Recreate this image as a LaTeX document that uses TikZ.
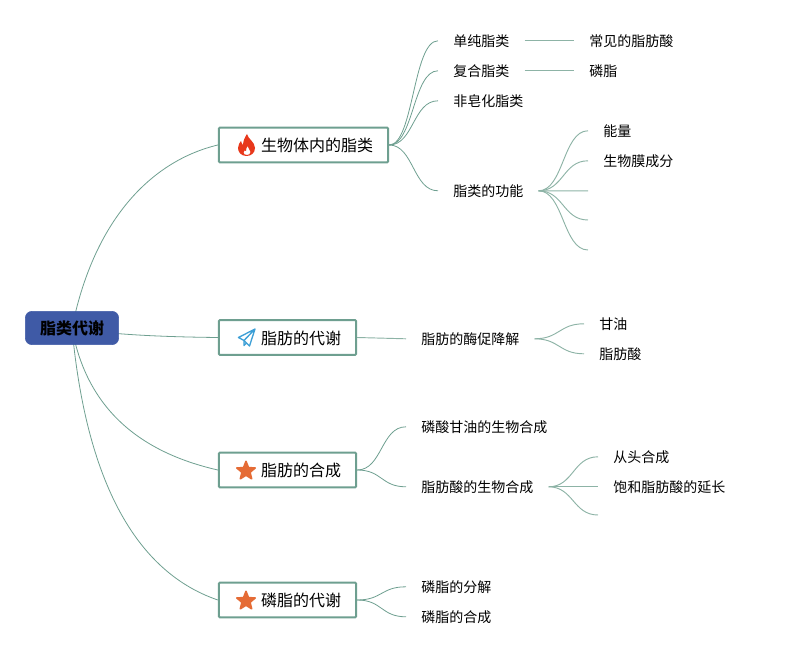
\documentclass[tikz,border=0pt]{standalone}
\usepackage{fontspec}
\usepackage{xcolor}
\setmainfont{Noto Sans CJK SC}
\usetikzlibrary{positioning, backgrounds, calc, shapes.geometric}
\definecolor{rootblue}{HTML}{3F5AA6}
\definecolor{topicline}{HTML}{6E9F90}
\definecolor{twigline}{HTML}{8DB3A6}
\definecolor{flamered}{HTML}{E8381B}
\definecolor{planeblue}{HTML}{3D9FD6}
\definecolor{starorange}{HTML}{E56B35}

\begin{document}
\begin{tikzpicture}[
  x=0.75pt, y=-0.75pt,
  root/.style={draw=rootblue, fill=rootblue, rounded corners=5pt, font=\fontsize{12}{14}\selectfont\bfseries,
               minimum width=70pt, minimum height=25pt, inner sep=0pt, text height=10.1pt, text depth=0pt},
  topic/.style={draw=topicline, line width=1.5pt, rounded corners=0.8pt, fill=white, font=\fontsize{12}{14}\selectfont,
                minimum height=26pt, inner sep=0pt, align=right, text height=10.1pt, text depth=0pt,
                execute at begin node=\hspace*{20.5pt}},
  leaf/.style={anchor=west, font=\fontsize{10.5}{13}\selectfont, inner xsep=11.25pt, inner ysep=0pt, yshift=-0.6pt},
  branch/.style={draw=topicline, line width=0.6pt},
  twig/.style={draw=twigline, line width=0.7pt},
  staricon/.style={star, star points=5, star point ratio=2.3, fill=starorange, draw=starorange,
                   line join=round, line width=1.2pt, minimum size=14.5pt, inner sep=0pt}
]
\useasboundingbox (0,0) rectangle (785,655);

% ---------- Centro e temas ----------
\node[root] (root) at (72,328) {脂类代谢};
\node[topic, minimum width=127pt] (lipids) at (303.5,145) {生物体内的脂类};
\node[topic, minimum width=103pt] (fatmeta) at (287.5,337.5) {脂肪的代谢};
\node[topic, minimum width=103pt] (fatsyn) at (287.5,470) {脂肪的合成};
\node[topic, minimum width=103pt] (phosmeta) at (287.5,600) {磷脂的代谢};

% ---------- Ramo 1 ----------
\node[leaf] (simple) at (438,40) {单纯脂类};
\node[leaf] (complex) at (438,70) {复合脂类};
\node[leaf] (nonsap) at (438,100) {非皂化脂类};
\node[leaf] (function) at (438,190) {脂类的功能};
\node[leaf] (fattyacid) at (574,40) {常见的脂肪酸};
\node[leaf] (phospholipid) at (574,70) {磷脂};
\node[leaf] (energy) at (588,130) {能量};
\node[leaf] (membrane) at (588,160) {生物膜成分};
\coordinate (funcc) at (588,190.8);
\coordinate (funcd) at (588,220);
\coordinate (funce) at (588,250);

% ---------- Ramo 2 ----------
\node[leaf] (lipolysis) at (406,338) {脂肪的酶促降解};
\node[leaf] (glycerol) at (584,323) {甘油};
\node[leaf] (fatacid) at (584,353) {脂肪酸};

% ---------- Ramo 3 ----------
\node[leaf] (pgsyn) at (406,426) {磷酸甘油的生物合成};
\node[leaf] (fasyn) at (406,486) {脂肪酸的生物合成};
\node[leaf] (denovo) at (598,456) {从头合成};
\node[leaf] (elong) at (598,486) {饱和脂肪酸的延长};
\coordinate (fasync) at (598,515);

% ---------- Ramo 4 ----------
\node[leaf] (phosdeg) at (406,586) {磷脂的分解};
\node[leaf] (phossyn) at (406,616) {磷脂的合成};

% ---------- Ícones ----------
\fill[flamered, even odd rule]
  (247,134) .. controls (248,139) and (255,142) .. (255,148)
  .. controls (255,153) and (251,156) .. (246.5,156)
  .. controls (241,156) and (238,152) .. (238,148)
  .. controls (238,145) and (240,142) .. (241,141)
  .. controls (241.5,143) and (242,144) .. (243,145)
  .. controls (243,141) and (245,137) .. (247,134) -- cycle
  (247.5,146) .. controls (248,148.5) and (250.5,150) .. (250.5,152)
  .. controls (250.5,154) and (249,155) .. (247,155)
  .. controls (245,155) and (243.5,154) .. (243.5,152.5)
  .. controls (243.5,151.5) and (244,151) .. (244.5,150.5)
  .. controls (245,151) and (245.5,151) .. (246,151)
  .. controls (246,149.5) and (246.5,147.5) .. (247.5,146) -- cycle;
\draw[planeblue, line width=1pt, line join=round]
  (255,329) -- (238.5,337.5) -- (244,340.5) -- (255,329) -- (249.5,346) -- (244,340.5) -- (244,345.5) -- (246.5,343);
\node[staricon] (stara) at (246,471) {};
\node[staricon] (starb) at (246,601) {};

% ---------- Ligações ----------
\begin{scope}[on background layer]
  \draw[branch] (root.center) .. controls (95,215) and (155,160) .. (lipids.west);
  \draw[branch] (root.center) .. controls (110,335) and (170,337) .. (fatmeta.west);
  \draw[branch] (root.center) .. controls (85,400) and (130,450) .. (fatsyn.west);
  \draw[branch] (root.center) .. controls (85,470) and (130,570) .. (phosmeta.west);
\end{scope}
\foreach \kid in {simple, complex, nonsap, function}
  \draw[branch] (lipids.east) .. controls ($(lipids.east)!0.5!(lipids.east -| \kid.west)$) and ($(\kid.west)+(-25,0)$) .. (\kid.west);
\foreach \kid/\mom in {fattyacid/simple, phospholipid/complex, lipolysis/fatmeta}
  \draw[twig] (\mom.east) -- (\kid.west);
\foreach \kid in {energy.west, membrane.west, funcc, funcd, funce}
  \draw[twig] (function.east) .. controls ($(function.east)+(25,0)$) and ($(\kid)+(-25,0)$) .. (\kid);
\foreach \kid in {glycerol, fatacid}
  \draw[twig] (lipolysis.east) .. controls ($(lipolysis.east)+(25,0)$) and ($(\kid.west)+(-25,0)$) .. (\kid.west);
\foreach \kid in {pgsyn, fasyn}
  \draw[branch] (fatsyn.east) .. controls ($(fatsyn.east)+(25,0)$) and ($(\kid.west)+(-25,0)$) .. (\kid.west);
\foreach \kid in {denovo.west, elong.west, fasync}
  \draw[twig] (fasyn.east) .. controls ($(fasyn.east)+(25,0)$) and ($(\kid)+(-25,0)$) .. (\kid);
\foreach \kid in {phosdeg, phossyn}
  \draw[branch] (phosmeta.east) .. controls ($(phosmeta.east)+(25,0)$) and ($(\kid.west)+(-25,0)$) .. (\kid.west);

\end{tikzpicture}
\end{document}
